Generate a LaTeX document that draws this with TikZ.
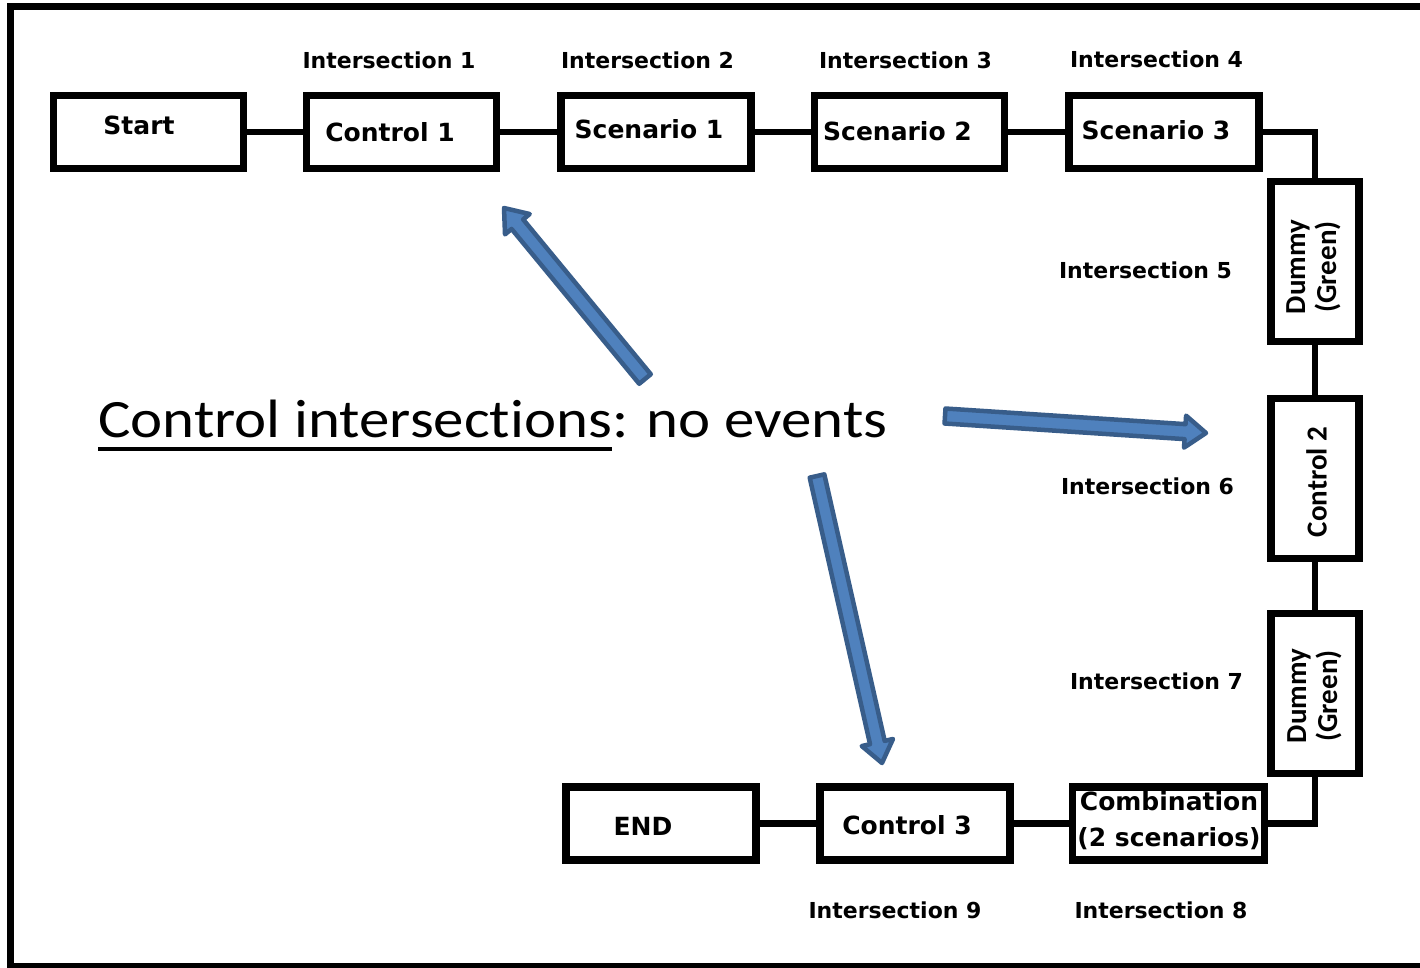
\documentclass[tikz,border=0pt]{standalone}
\usepackage{fontspec}
\usetikzlibrary{calc}
\newfontfamily\dvfont{DejaVu Sans}
\newfontfamily\cbfont{Carlito}[Ligatures=NoCommon]
\definecolor{arrowfill}{HTML}{4F81BD}
\definecolor{arrowline}{HTML}{385D8A}
\tikzset{
  box/.style={draw=black, line width=7.5pt, fill=white, inner sep=0pt,
              minimum width=190pt, minimum height=73pt},
  vbox/.style={box, minimum width=88pt, minimum height=160pt},
  link/.style={line width=6.5pt, draw=black},
  boxtext/.style={font=\dvfont\bfseries\fontsize{25}{36}\selectfont, inner sep=0pt, align=center},
  vtext/.style={font=\cbfont\bfseries\fontsize{29}{31}\selectfont, inner sep=0pt,
                rotate=90, align=center},
  inter/.style={font=\dvfont\bfseries\fontsize{22}{26}\selectfont, inner sep=0pt},
  bigtext/.style={font=\cbfont\fontsize{54}{60}\selectfont, inner sep=0pt, xscale=1.127},
  blockarrow/.style={fill=arrowfill, draw=arrowline, line width=4.5pt, line join=round},
}
% block arrow from tail #1 to tip #2
\newcommand{\blockarrow}[2]{%
  \coordinate (ba-b) at ($(#2)!21pt!(#1)$);
  \filldraw[blockarrow]
    ($(#1)!7.5pt!90:(#2)$) -- ($(ba-b)!7.5pt!90:(#2)$) -- ($(ba-b)!16pt!90:(#2)$)
    -- (#2) -- ($(ba-b)!16pt!-90:(#2)$) -- ($(ba-b)!7.5pt!-90:(#2)$)
    -- ($(#1)!7.5pt!-90:(#2)$) -- cycle;
}
\begin{document}
\begin{tikzpicture}[x=1pt, y=-1pt]
\useasboundingbox (0,0) rectangle (1420,968);
\fill[white] (0,0) rectangle (1420,968);

% outer frame (open on the right)
\draw[line width=7pt] (1420,6.5) -- (10,6.5) -- (10,966) -- (1420,966);

% boxes
\node[box] (start) at (148.5,132) {};
\node[box] (ctrl1) at (401.5,132) {};
\node[box] (scen1) at (656,132) {};
\node[box] (scen2) at (909.5,132) {};
\node[box] (scen3) at (1164,132) {};
\node[vbox] (dummy1) at (1315,261.5) {};
\node[vbox] (ctrl2) at (1315,478.5) {};
\node[vbox] (dummy2) at (1315,693.5) {};
\node[box, minimum width=192pt] (comb) at (1168.5,823.5) {};
\node[box] (ctrl3) at (915,823.5) {};
\node[box] (endbox) at (661,823.5) {};

% connectors
\draw[link] (start) -- (ctrl1);
\draw[link] (ctrl1) -- (scen1);
\draw[link] (scen1) -- (scen2);
\draw[link] (scen2) -- (scen3);
\draw[link] (scen3.east) -| (dummy1.north);
\draw[link] (dummy1) -- (ctrl2);
\draw[link] (ctrl2) -- (dummy2);
\draw[link] (dummy2.south) |- (comb.east);
\draw[link] (comb) -- (ctrl3);
\draw[link] (ctrl3) -- (endbox);

% box texts
\node[boxtext] (start-t) at (139,125.5) {Start};
\node[boxtext] (ctrl1-t) at (390,132) {Control 1};
\node[boxtext] (scen1-t) at (649,129.5) {Scenario 1};
\node[boxtext] (scen2-t) at (897.5,131) {Scenario 2};
\node[boxtext] (scen3-t) at (1156,130) {Scenario 3};
\node[boxtext] (end-t) at (643,826.5) {END};
\node[boxtext] (ctrl3-t) at (907,825.5) {Control 3};
\node[boxtext] (comb-t) at (1169,821) {Combination\\(2 scenarios)};
\node[vtext] (dummy1-t) at (1313.5,267) {Dummy\\(Green)};
\node[vtext] (ctrl2-t) at (1316.5,482) {Control 2};
\node[vtext] (dummy2-t) at (1314.5,696) {Dummy\\(Green)};

% intersection labels
\node[inter] (i1) at (389,60) {Intersection 1};
\node[inter] (i2) at (647.5,60) {Intersection 2};
\node[inter] (i3) at (905.5,60) {Intersection 3};
\node[inter] (i4) at (1156.5,59.5) {Intersection 4};
\node[inter] (i5) at (1145.5,270) {Intersection 5};
\node[inter] (i6) at (1147.5,486) {Intersection 6};
\node[inter] (i7) at (1156.5,681.5) {Intersection 7};
\node[inter] (i8) at (1161,910) {Intersection 8};
\node[inter] (i9) at (895,910) {Intersection 9};

% caption with underlined part
\node[bigtext, anchor=base west] (caption) at (98,437)
  {\setbox0\hbox{Control intersections}\rlap{\rule[-14pt]{\wd0}{4pt}}\box0: no events};

% blue pointer arrows
\coordinate (a1-tail) at (645,379);
\coordinate (a1-tip) at (504,208);
\coordinate (a2-tail) at (945,416);
\coordinate (a2-tip) at (1206,433);
\coordinate (a3-tail) at (817,476);
\coordinate (a3-tip) at (882,763);
\blockarrow{a1-tail}{a1-tip}
\blockarrow{a2-tail}{a2-tip}
\blockarrow{a3-tail}{a3-tip}
\end{tikzpicture}
\end{document}
